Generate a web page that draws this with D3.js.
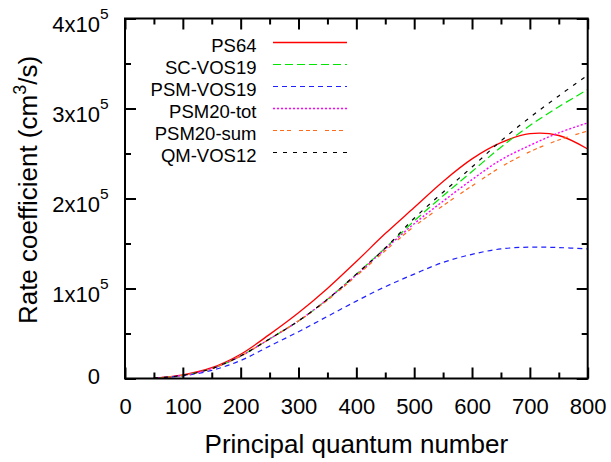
<!DOCTYPE html>
<html>
<head>
<meta charset="utf-8">
<script src="https://cdn.jsdelivr.net/npm/d3@7"></script>
<style>
  html, body { margin: 0; padding: 0; background: #fff; }
  text { font-family: "Liberation Sans", Arial, Helvetica, sans-serif; fill: #000; }
</style>
</head>
<body>
<svg id="chart" width="611" height="462"></svg>
<script>
// ---- data ----
const nValues = [50, 100, 150, 200, 250, 300, 350, 400, 450, 500, 550, 600, 650, 700, 750, 800];
const ps64     = [0.005, 0.04, 0.12, 0.27, 0.49, 0.73, 1.00, 1.30, 1.61, 1.90, 2.19, 2.44, 2.62, 2.72, 2.70, 2.55];
const scVos19  = [0.005, 0.035, 0.11, 0.25, 0.44, 0.64, 0.88, 1.16, 1.45, 1.75, 2.03, 2.30, 2.57, 2.81, 3.02, 3.21];
const psmVos19 = [0.004, 0.03, 0.09, 0.20, 0.36, 0.52, 0.69, 0.86, 1.02, 1.16, 1.29, 1.38, 1.44, 1.46, 1.455, 1.44];
const psm20tot = [0.005, 0.035, 0.11, 0.25, 0.44, 0.64, 0.88, 1.15, 1.44, 1.72, 1.97, 2.21, 2.43, 2.59, 2.73, 2.84];
const psm20sum = [0.005, 0.035, 0.11, 0.25, 0.44, 0.64, 0.87, 1.14, 1.42, 1.69, 1.92, 2.14, 2.35, 2.52, 2.65, 2.75];
const qmVos12  = [0.005, 0.035, 0.11, 0.25, 0.44, 0.64, 0.88, 1.16, 1.45, 1.78, 2.07, 2.35, 2.64, 2.90, 3.14, 3.37];
const valueUnit = 1e5;

const seriesNames  = ["PS64", "SC-VOS19", "PSM-VOS19", "PSM20-tot", "PSM20-sum", "QM-VOS12"];
const seriesValues = [ps64, scVos19, psmVos19, psm20tot, psm20sum, qmVos12];

const xTickValues = [0, 100, 200, 300, 400, 500, 600, 700, 800];
const xMinorTicks = [50, 150, 250, 350, 450, 550, 650, 750];
const yTickValues = [0, 1e5, 2e5, 3e5, 4e5];
const yTickMantissa = ["0", "1x10", "2x10", "3x10", "4x10"];
const yTickExponent = ["", "5", "5", "5", "5"];
const yMinorTicks = [0.5e5, 1.5e5, 2.5e5, 3.5e5];
const xTitle = "Principal quantum number";

// ---- styles ----
const styles = [
  { color: "#ff0000", dash: null, width: 1.3 },
  { color: "#00e600", dash: "8,4", width: 1.2 },
  { color: "#2020ff", dash: "5,4", width: 1.2 },
  { color: "#ff00ff", dash: "2,2", width: 1.4 },
  { color: "#ff6a1a", dash: "4,3,4,3,4,8", width: 1.2 },
  { color: "#000000", dash: "4,6", width: 1.2 }
];

const svg = d3.select("#chart");
svg.append("rect").attr("width", 611).attr("height", 462).attr("fill", "#fff");

const L = 125, R = 587.7, T = 18.5, B = 378.5;
const x = d3.scaleLinear().domain([0, 800]).range([L, R]);
const y = d3.scaleLinear().domain([0, 4e5]).range([B, T]);

svg.append("clipPath").attr("id", "clip").append("rect")
  .attr("x", L).attr("y", T).attr("width", R - L).attr("height", B - T);

// ---- curves ----
const line = d3.line()
  .x(d => x(d[0]))
  .y(d => y(d[1]))
  .curve(d3.curveCatmullRom.alpha(0.5));

const curves = svg.append("g").attr("clip-path", "url(#clip)");
seriesValues.forEach((vals, i) => {
  const pts = nValues.map((n, j) => [n, vals[j] * valueUnit]);
  const st = styles[i];
  const p = curves.append("path")
    .datum(pts)
    .attr("fill", "none")
    .attr("stroke", st.color)
    .attr("stroke-width", st.width)
    .attr("d", line);
  if (st.dash) p.attr("stroke-dasharray", st.dash);
});

// ---- axes (inward ticks, mirrored) ----
function styleAxis(g) {
  g.select(".domain").remove();
  g.selectAll(".tick line").attr("stroke", "#000").attr("stroke-width", 2);
}
const fontTick = 22;

svg.append("g").attr("transform", `translate(0,${B})`)
  .call(d3.axisBottom(x).tickValues(xTickValues).tickSize(-11).tickPadding(20).tickFormat(d3.format("d")))
  .call(styleAxis)
  .call(g => g.selectAll("text").attr("font-size", fontTick).style("font-family", "Liberation Sans, Arial, sans-serif"));
svg.append("g").attr("transform", `translate(0,${B})`)
  .call(d3.axisBottom(x).tickValues(xMinorTicks).tickSize(-6).tickFormat(""))
  .call(styleAxis);
svg.append("g").attr("transform", `translate(0,${T})`)
  .call(d3.axisTop(x).tickValues(xTickValues).tickSize(-11).tickFormat(""))
  .call(styleAxis);
svg.append("g").attr("transform", `translate(0,${T})`)
  .call(d3.axisTop(x).tickValues(xMinorTicks).tickSize(-6).tickFormat(""))
  .call(styleAxis);
svg.append("g").attr("transform", `translate(${L},0)`)
  .call(d3.axisLeft(y).tickValues(yTickValues).tickSize(-11).tickFormat(""))
  .call(styleAxis);
svg.append("g").attr("transform", `translate(${L},0)`)
  .call(d3.axisLeft(y).tickValues(yMinorTicks).tickSize(-6).tickFormat(""))
  .call(styleAxis);
svg.append("g").attr("transform", `translate(${R},0)`)
  .call(d3.axisRight(y).tickValues(yTickValues).tickSize(-11).tickFormat(""))
  .call(styleAxis);
svg.append("g").attr("transform", `translate(${R},0)`)
  .call(d3.axisRight(y).tickValues(yMinorTicks).tickSize(-6).tickFormat(""))
  .call(styleAxis);

svg.append("rect").attr("x", L).attr("y", T).attr("width", R - L).attr("height", B - T)
  .attr("fill", "none").attr("stroke", "#000").attr("stroke-width", 2);

// y tick labels with superscripts
const yLab = svg.append("g");
yTickValues.forEach((v, i) => {
  if (yTickExponent[i] === "") {
    yLab.append("text").attr("x", 100).attr("y", y(v) + 5)
      .attr("text-anchor", "end").attr("font-size", fontTick).text(yTickMantissa[i]);
  } else {
    const t = yLab.append("text").attr("x", 108.5).attr("y", y(v) + 13.5)
      .attr("text-anchor", "end").attr("font-size", fontTick);
    t.append("tspan").text(yTickMantissa[i]);
    t.append("tspan").attr("font-size", 15.5).attr("dy", -13).text(yTickExponent[i]);
  }
});

// axis titles
svg.append("text").attr("x", (L + R) / 2).attr("y", 453)
  .attr("text-anchor", "middle").attr("font-size", 26).text(xTitle);

const yt = svg.append("text")
  .attr("transform", "translate(37,190) rotate(-90)")
  .attr("text-anchor", "middle").attr("font-size", 26);
yt.append("tspan").text("Rate coefficient (cm");
yt.append("tspan").attr("font-size", 18).attr("dy", -11).text("3");
yt.append("tspan").attr("dy", 11).text("/s)");

// ---- legend ----
const legend = svg.append("g");
seriesNames.forEach((name, i) => {
  const cy = 45 + i * 22;
  legend.append("text").attr("x", 256.5).attr("y", cy + 6.5)
    .attr("text-anchor", "end").attr("font-size", 18.5).text(name);
  const st = styles[i];
  const l = legend.append("line")
    .attr("x1", 273).attr("x2", 347).attr("y1", cy - 2.5).attr("y2", cy - 2.5)
    .attr("stroke", st.color).attr("stroke-width", st.width);
  if (st.dash) l.attr("stroke-dasharray", st.dash);
});
</script>
</body>
</html>
